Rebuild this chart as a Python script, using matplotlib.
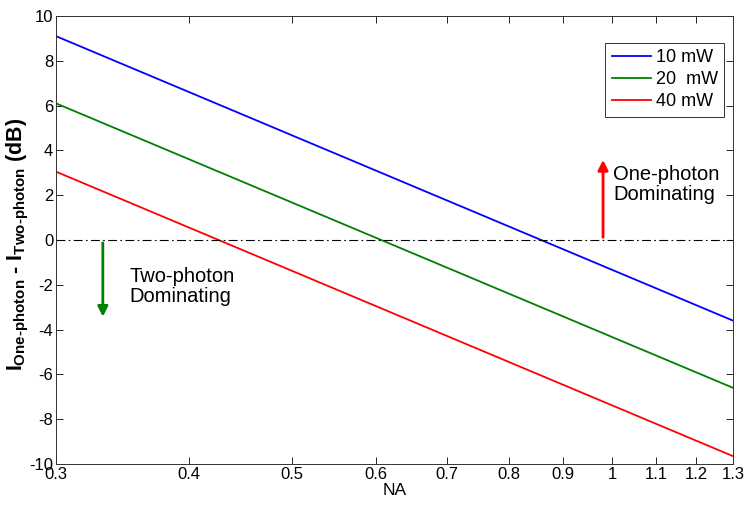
import matplotlib
matplotlib.use("Agg")
import matplotlib.pyplot as plt
from matplotlib.ticker import FixedLocator, FixedFormatter, NullLocator

plt.rcParams['font.family'] = ['Liberation Sans', 'DejaVu Sans']
plt.rcParams['mathtext.fontset'] = 'custom'
plt.rcParams['mathtext.rm'] = 'Liberation Sans:bold'
plt.rcParams['mathtext.it'] = 'Liberation Sans:bold'
plt.rcParams['mathtext.bf'] = 'Liberation Sans:bold'

# Data (straight lines on log-x axis)
na = [0.3, 1.3]
p10 = [9.1, -3.6]
p20 = [6.1, -6.6]
p40 = [3.05, -9.65]
labels = ['10 mW', '20  mW', '40 mW']
colors = ['#0000ff', '#008000', '#ff0000']
xticks = [0.3, 0.4, 0.5, 0.6, 0.7, 0.8, 0.9, 1.0, 1.1, 1.2, 1.3]
xticklabels = ['0.3', '0.4', '0.5', '0.6', '0.7', '0.8', '0.9', '1', '1.1', '1.2', '1.3']
yticks = [-10, -8, -6, -4, -2, 0, 2, 4, 6, 8, 10]

fig = plt.figure(figsize=(7.48, 5.08), dpi=100)
ax = fig.add_axes([0.0749, 0.0866, 0.9051, 0.8819])

for y, lab, c in zip([p10, p20, p40], labels, colors):
    ax.plot(na, y, color=c, lw=1.3, label=lab)

ax.axhline(0, color='black', lw=0.8, ls=(0, (8, 3, 1.5, 3)))

ax.set_xscale('log')
ax.set_xlim(0.3, 1.3)
ax.set_ylim(-10, 10)
ax.xaxis.set_major_locator(FixedLocator(xticks))
ax.xaxis.set_major_formatter(FixedFormatter(xticklabels))
ax.xaxis.set_minor_locator(NullLocator())
ax.set_yticks(yticks)
ax.set_yticklabels([str(v) for v in yticks])
ax.tick_params(direction='in', top=True, right=True, labelsize=12, length=5, width=0.6, pad=2)
for s in ax.spines.values():
    s.set_linewidth(0.7)
    s.set_color('#333333')

ax.set_xlabel('NA', fontsize=12.5, labelpad=1)
ax.set_ylabel(r'$I_{One\text{-}photon}$ - $I_{Two\text{-}photon}$ (dB)',
              fontsize=15.5, fontweight='bold')
ax.yaxis.set_label_coords(-0.037, 0.49)

# arrows
ax.annotate('', xy=(0.332, -3.55), xytext=(0.332, 0),
            arrowprops=dict(arrowstyle='-|>', color='#008000', lw=2, mutation_scale=15))
ax.annotate('', xy=(0.981, 3.7), xytext=(0.981, 0),
            arrowprops=dict(arrowstyle='-|>', color='#ff0000', lw=2, mutation_scale=15))
ax.text(0.352, -1.2, 'Two-photon\nDominating', fontsize=14.5, va='top', ha='left', linespacing=1.05)
ax.text(1.003, 3.35, 'One-photon\nDominating', fontsize=14.5, va='top', ha='left', linespacing=1.05)

leg = ax.legend(loc='upper right', bbox_to_anchor=(0.9867, 0.9397), fontsize=13, frameon=True,
                fancybox=False, edgecolor='black', handlelength=2.15, handletextpad=0.28,
                borderpad=0.35, labelspacing=0.28, borderaxespad=0)
leg.get_frame().set_linewidth(0.7)

fig.savefig('out.png', dpi=100)
